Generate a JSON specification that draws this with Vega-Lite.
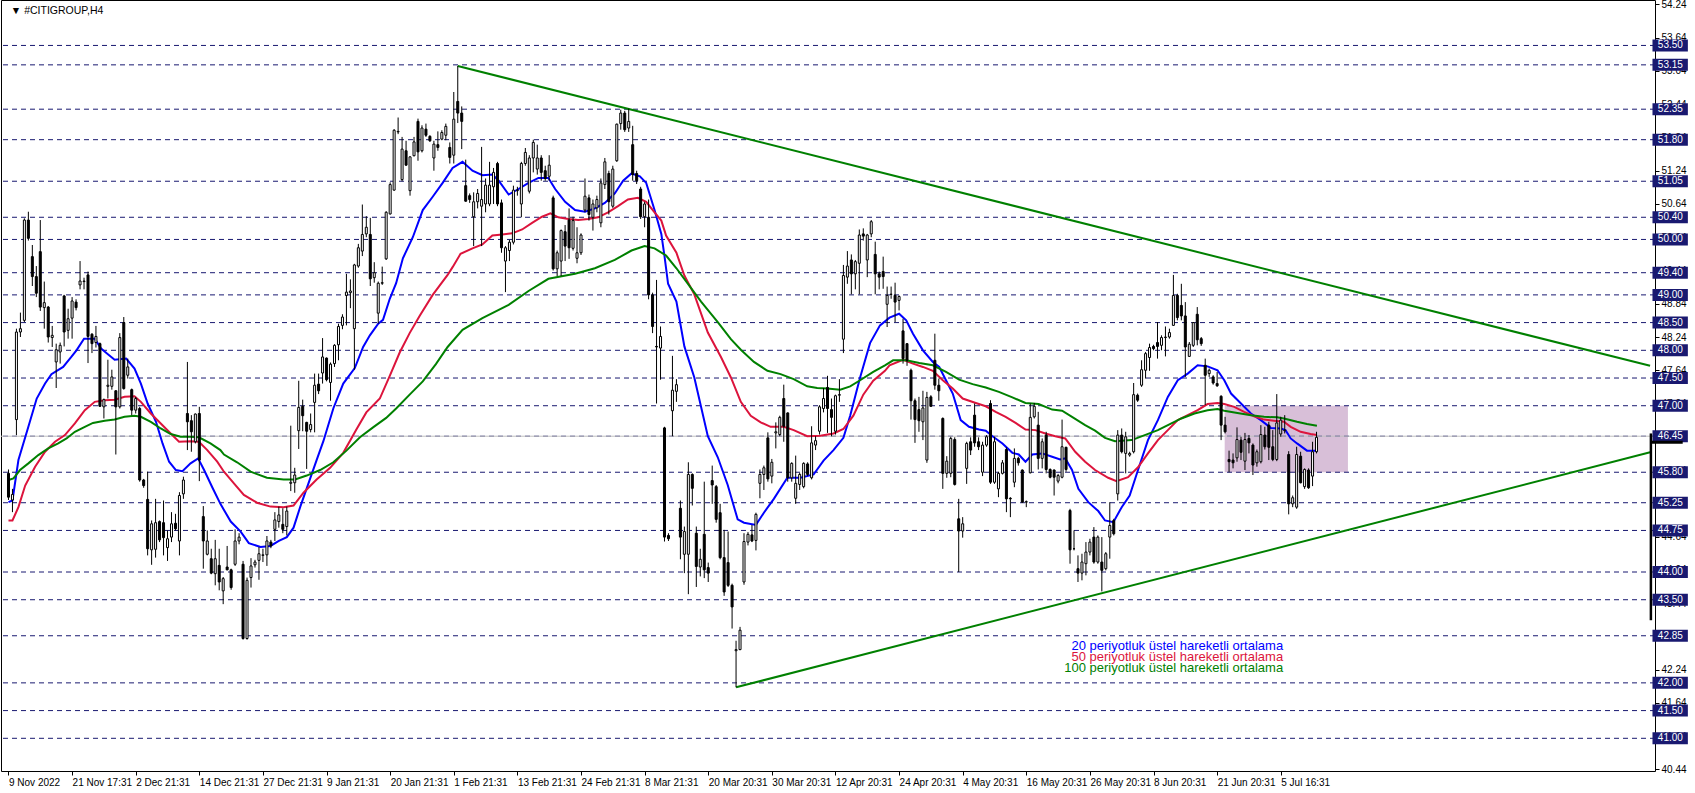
{
"$schema": "https://vega.github.io/schema/vega-lite/v6.json",
"width": 1654, "height": 771,
"autosize": {"type": "none"},
"padding": {"left": 1, "top": 0, "right": 40, "bottom": 22},
"background": "white",
"config": {"view": {"stroke": "#000000", "strokeWidth": 1}, "font": "Liberation Sans"},
"datasets": {
"levels": [{"p":53.50},{"p":53.15},{"p":52.35},{"p":51.80},{"p":51.05},{"p":50.40},{"p":50.00},{"p":49.40},{"p":49.00},{"p":48.50},{"p":48.00},{"p":47.50},{"p":47.00},{"p":46.45},{"p":45.80},{"p":45.25},{"p":44.75},{"p":44.00},{"p":43.50},{"p":42.85},{"p":42.00},{"p":41.50},{"p":41.00}],
"candles": [
{"i":0,"o":45.78,"h":45.85,"l":45.30,"c":45.35},{"i":1,"o":45.30,"h":45.50,"l":45.08,"c":45.40},{"i":2,"o":46.75,"h":48.39,"l":46.47,"c":48.33},{"i":3,"o":48.33,"h":48.68,"l":48.24,"c":48.39},{"i":4,"o":48.54,"h":50.38,"l":48.51,"c":50.35},{"i":5,"o":50.35,"h":50.50,"l":49.98,"c":50.02},{"i":6,"o":49.69,"h":49.90,"l":49.16,"c":49.33},{"i":7,"o":49.33,"h":49.52,"l":48.96,"c":49.03},{"i":8,"o":49.78,"h":50.35,"l":48.71,"c":48.78},{"i":9,"o":48.77,"h":49.24,"l":48.39,"c":48.86},
{"i":10,"o":48.78,"h":48.80,"l":48.14,"c":48.24},{"i":11,"o":48.23,"h":48.44,"l":48.06,"c":48.27},{"i":12,"o":47.79,"h":48.12,"l":47.32,"c":48.01},{"i":13,"o":47.97,"h":48.14,"l":47.76,"c":48.09},{"i":14,"o":48.98,"h":49.00,"l":48.07,"c":48.33},{"i":15,"o":48.36,"h":48.75,"l":48.21,"c":48.57},{"i":16,"o":48.58,"h":48.96,"l":48.21,"c":48.89},{"i":17,"o":48.87,"h":48.92,"l":48.72,"c":48.77},{"i":18,"o":49.18,"h":49.61,"l":49.10,"c":49.25},{"i":19,"o":49.24,"h":49.31,"l":49.10,"c":49.25},
{"i":20,"o":49.36,"h":49.42,"l":47.77,"c":48.25},{"i":21,"o":48.29,"h":48.31,"l":47.95,"c":48.12},{"i":22,"o":48.14,"h":48.44,"l":48.05,"c":48.25},{"i":23,"o":48.12,"h":48.14,"l":46.98,"c":46.99},{"i":24,"o":46.98,"h":47.13,"l":46.77,"c":47.11},{"i":25,"o":47.35,"h":47.83,"l":47.13,"c":47.37},{"i":26,"o":47.35,"h":47.65,"l":47.29,"c":47.52},{"i":27,"o":47.27,"h":47.28,"l":46.12,"c":46.98},{"i":28,"o":46.98,"h":48.31,"l":46.95,"c":48.23},{"i":29,"o":48.50,"h":48.60,"l":47.29,"c":47.31},
{"i":30,"o":47.55,"h":47.85,"l":47.49,"c":47.70},{"i":31,"o":47.29,"h":47.31,"l":46.83,"c":46.92},{"i":32,"o":46.92,"h":47.16,"l":46.86,"c":47.13},{"i":33,"o":46.95,"h":46.98,"l":45.63,"c":45.66},{"i":34,"o":45.66,"h":45.68,"l":45.52,"c":45.56},{"i":35,"o":45.31,"h":45.81,"l":44.30,"c":44.42},{"i":36,"o":44.40,"h":44.93,"l":44.13,"c":44.87},{"i":37,"o":44.41,"h":45.32,"l":44.26,"c":44.89},{"i":38,"o":44.91,"h":44.93,"l":44.54,"c":44.58},{"i":39,"o":44.89,"h":45.29,"l":44.30,"c":44.62},
{"i":40,"o":44.44,"h":44.75,"l":44.20,"c":44.60},{"i":41,"o":44.63,"h":45.08,"l":44.54,"c":44.87},{"i":42,"o":44.88,"h":45.05,"l":44.75,"c":44.78},{"i":43,"o":44.56,"h":45.44,"l":44.30,"c":45.38},{"i":44,"o":45.41,"h":45.72,"l":45.32,"c":45.66},{"i":45,"o":46.86,"h":47.79,"l":46.20,"c":46.71},{"i":46,"o":46.73,"h":46.83,"l":46.17,"c":46.53},{"i":47,"o":46.35,"h":46.86,"l":46.32,"c":46.85},{"i":48,"o":46.86,"h":46.98,"l":45.64,"c":46.02},{"i":49,"o":45.00,"h":45.19,"l":44.06,"c":44.56},
{"i":50,"o":44.32,"h":44.75,"l":44.30,"c":44.56},{"i":51,"o":44.24,"h":44.42,"l":43.96,"c":43.98},{"i":52,"o":43.97,"h":44.58,"l":43.76,"c":44.24},{"i":53,"o":44.12,"h":44.42,"l":43.67,"c":43.82},{"i":54,"o":43.66,"h":43.91,"l":43.42,"c":43.88},{"i":55,"o":44.09,"h":44.47,"l":44.03,"c":44.04},{"i":56,"o":44.04,"h":44.06,"l":43.68,"c":43.72},{"i":57,"o":44.14,"h":44.77,"l":44.11,"c":44.56},{"i":58,"o":44.56,"h":44.70,"l":44.50,"c":44.63},{"i":59,"o":44.14,"h":44.20,"l":42.78,"c":42.80},
{"i":60,"o":42.80,"h":43.90,"l":42.78,"c":43.85},{"i":61,"o":43.90,"h":44.25,"l":43.72,"c":44.11},{"i":62,"o":44.13,"h":44.22,"l":44.08,"c":44.18},{"i":63,"o":44.21,"h":44.45,"l":43.86,"c":44.33},{"i":64,"o":44.30,"h":44.42,"l":44.18,"c":44.31},{"i":65,"o":44.31,"h":44.65,"l":44.11,"c":44.56},{"i":66,"o":44.54,"h":44.58,"l":44.43,"c":44.47},{"i":67,"o":44.77,"h":45.08,"l":44.56,"c":44.94},{"i":68,"o":44.91,"h":45.18,"l":44.80,"c":45.03},{"i":69,"o":44.86,"h":45.15,"l":44.70,"c":44.77},
{"i":70,"o":44.82,"h":45.18,"l":44.66,"c":45.10},{"i":71,"o":45.60,"h":46.64,"l":45.46,"c":45.62},{"i":72,"o":45.61,"h":45.88,"l":45.43,"c":45.75},{"i":73,"o":46.55,"h":47.45,"l":46.22,"c":46.97},{"i":74,"o":46.99,"h":47.11,"l":46.54,"c":46.82},{"i":75,"o":46.70,"h":46.71,"l":45.86,"c":46.54},{"i":76,"o":46.57,"h":46.86,"l":46.52,"c":46.66},{"i":77,"o":47.06,"h":47.58,"l":46.52,"c":47.37},{"i":78,"o":47.39,"h":47.58,"l":47.21,"c":47.27},{"i":79,"o":47.59,"h":48.22,"l":47.40,"c":47.88},
{"i":80,"o":47.86,"h":47.87,"l":47.44,"c":47.47},{"i":81,"o":47.42,"h":47.78,"l":47.09,"c":47.75},{"i":82,"o":47.76,"h":48.11,"l":47.70,"c":48.09},{"i":83,"o":48.10,"h":48.48,"l":47.82,"c":48.43},{"i":84,"o":48.45,"h":48.65,"l":48.38,"c":48.60},{"i":85,"o":48.99,"h":49.38,"l":48.45,"c":49.05},{"i":86,"o":49.04,"h":49.28,"l":48.76,"c":49.07},{"i":87,"o":48.39,"h":49.56,"l":47.65,"c":49.54},{"i":88,"o":49.52,"h":49.92,"l":49.49,"c":49.85},{"i":89,"o":49.79,"h":50.63,"l":49.70,"c":50.09},
{"i":90,"o":50.10,"h":50.42,"l":50.04,"c":50.22},{"i":91,"o":50.09,"h":50.39,"l":49.16,"c":49.29},{"i":92,"o":49.31,"h":49.59,"l":49.22,"c":49.40},{"i":93,"o":48.67,"h":49.24,"l":48.48,"c":49.21},{"i":94,"o":49.21,"h":49.51,"l":49.18,"c":49.22},{"i":95,"o":49.65,"h":50.51,"l":49.63,"c":50.49},{"i":96,"o":50.46,"h":51.03,"l":50.45,"c":50.99},{"i":97,"o":50.89,"h":51.99,"l":50.88,"c":51.97},{"i":98,"o":51.94,"h":52.20,"l":51.90,"c":51.95},{"i":99,"o":51.08,"h":51.85,"l":51.05,"c":51.63},
{"i":100,"o":51.60,"h":51.78,"l":51.33,"c":51.34},{"i":101,"o":50.88,"h":51.50,"l":50.79,"c":51.49},{"i":102,"o":51.51,"h":51.85,"l":51.50,"c":51.76},{"i":103,"o":52.13,"h":52.18,"l":51.42,"c":51.58},{"i":104,"o":51.60,"h":52.06,"l":51.57,"c":52.01},{"i":105,"o":51.99,"h":52.09,"l":51.85,"c":51.88},{"i":106,"o":51.86,"h":51.88,"l":51.76,"c":51.78},{"i":107,"o":51.47,"h":51.78,"l":51.24,"c":51.72},{"i":108,"o":51.71,"h":51.95,"l":51.60,"c":51.66},{"i":109,"o":51.81,"h":51.97,"l":51.79,"c":51.93},
{"i":110,"o":51.88,"h":52.09,"l":51.79,"c":52.04},{"i":111,"o":51.66,"h":51.75,"l":51.37,"c":51.48},{"i":112,"o":51.52,"h":52.66,"l":51.37,"c":52.17},{"i":113,"o":52.49,"h":53.13,"l":52.10,"c":52.28},{"i":114,"o":52.28,"h":52.40,"l":51.63,"c":52.13},{"i":115,"o":50.97,"h":51.44,"l":50.68,"c":50.69},{"i":116,"o":50.79,"h":50.83,"l":50.66,"c":50.72},{"i":117,"o":50.41,"h":50.85,"l":49.88,"c":50.68},{"i":118,"o":50.68,"h":50.91,"l":50.56,"c":50.83},{"i":119,"o":50.60,"h":51.67,"l":49.88,"c":50.72},
{"i":120,"o":50.64,"h":51.10,"l":50.49,"c":50.98},{"i":121,"o":50.64,"h":51.40,"l":50.60,"c":50.98},{"i":122,"o":50.95,"h":51.29,"l":50.64,"c":51.21},{"i":123,"o":51.37,"h":51.40,"l":50.60,"c":50.64},{"i":124,"o":50.66,"h":50.72,"l":49.76,"c":49.85},{"i":125,"o":49.61,"h":49.88,"l":49.05,"c":49.85},{"i":126,"o":49.80,"h":49.99,"l":49.61,"c":49.95},{"i":127,"o":49.95,"h":50.97,"l":49.91,"c":50.89},{"i":128,"o":50.88,"h":50.95,"l":50.79,"c":50.89},{"i":129,"o":50.64,"h":51.40,"l":50.40,"c":51.37},
{"i":130,"o":51.37,"h":51.65,"l":51.33,"c":51.57},{"i":131,"o":50.87,"h":51.52,"l":50.83,"c":51.47},{"i":132,"o":51.47,"h":51.80,"l":51.21,"c":51.75},{"i":133,"o":51.27,"h":51.71,"l":51.17,"c":51.47},{"i":134,"o":51.47,"h":51.52,"l":51.06,"c":51.21},{"i":135,"o":51.24,"h":51.33,"l":51.06,"c":51.10},{"i":136,"o":51.14,"h":51.52,"l":51.06,"c":51.34},{"i":137,"o":50.75,"h":50.79,"l":49.44,"c":49.47},{"i":138,"o":49.47,"h":49.80,"l":49.34,"c":49.76},{"i":139,"o":49.61,"h":50.18,"l":49.34,"c":50.16},
{"i":140,"o":50.14,"h":50.26,"l":49.61,"c":49.88},{"i":141,"o":50.35,"h":50.56,"l":49.65,"c":49.85},{"i":142,"o":49.84,"h":50.41,"l":49.80,"c":50.34},{"i":143,"o":49.66,"h":50.22,"l":49.57,"c":49.76},{"i":144,"o":49.76,"h":50.11,"l":49.72,"c":50.08},{"i":145,"o":50.53,"h":51.10,"l":50.49,"c":50.78},{"i":146,"o":50.75,"h":50.81,"l":50.34,"c":50.45},{"i":147,"o":50.40,"h":50.72,"l":50.16,"c":50.64},{"i":148,"o":50.57,"h":50.79,"l":50.49,"c":50.72},{"i":149,"o":50.30,"h":51.10,"l":50.22,"c":51.02},
{"i":150,"o":50.99,"h":51.47,"l":50.91,"c":51.40},{"i":151,"o":51.19,"h":51.24,"l":50.45,"c":50.68},{"i":152,"o":50.60,"h":51.33,"l":50.57,"c":51.27},{"i":153,"o":51.42,"h":52.09,"l":51.40,"c":52.08},{"i":154,"o":52.09,"h":52.34,"l":51.98,"c":52.28},{"i":155,"o":52.28,"h":52.32,"l":51.94,"c":51.98},{"i":156,"o":52.01,"h":52.36,"l":51.94,"c":52.13},{"i":157,"o":51.71,"h":52.05,"l":51.06,"c":51.17},{"i":158,"o":51.19,"h":51.24,"l":51.00,"c":51.06},{"i":159,"o":50.91,"h":50.95,"l":50.37,"c":50.41},
{"i":160,"o":50.41,"h":50.68,"l":50.22,"c":50.64},{"i":161,"o":50.40,"h":50.72,"l":48.92,"c":49.00},{"i":162,"o":49.00,"h":49.04,"l":48.31,"c":48.43},{"i":163,"o":48.07,"h":49.27,"l":47.04,"c":48.06},{"i":164,"o":48.04,"h":48.43,"l":47.47,"c":48.25},{"i":165,"o":46.60,"h":46.62,"l":44.55,"c":44.63},{"i":166,"o":44.66,"h":44.70,"l":44.56,"c":44.60},{"i":167,"o":46.91,"h":47.90,"l":46.45,"c":47.28},{"i":168,"o":47.26,"h":47.48,"l":47.07,"c":47.38},{"i":169,"o":45.15,"h":45.29,"l":44.23,"c":44.63},
{"i":170,"o":44.32,"h":44.82,"l":43.98,"c":44.73},{"i":171,"o":44.32,"h":45.98,"l":43.60,"c":45.76},{"i":172,"o":45.76,"h":45.78,"l":45.20,"c":45.51},{"i":173,"o":44.70,"h":44.82,"l":43.73,"c":44.10},{"i":174,"o":44.09,"h":44.42,"l":43.92,"c":44.23},{"i":175,"o":44.68,"h":45.63,"l":43.89,"c":44.04},{"i":176,"o":44.08,"h":44.17,"l":43.82,"c":43.98},{"i":177,"o":45.65,"h":45.92,"l":45.23,"c":45.57},{"i":178,"o":45.54,"h":45.57,"l":44.89,"c":44.95},{"i":179,"o":45.07,"h":45.23,"l":44.23,"c":44.26},
{"i":180,"o":44.26,"h":44.76,"l":43.57,"c":43.64},{"i":181,"o":44.17,"h":44.73,"l":43.73,"c":43.76},{"i":182,"o":43.76,"h":43.79,"l":42.98,"c":43.37},{"i":183,"o":42.58,"h":42.76,"l":41.92,"c":42.60},{"i":184,"o":42.60,"h":43.01,"l":42.59,"c":42.95},{"i":185,"o":43.82,"h":44.70,"l":43.77,"c":44.55},{"i":186,"o":44.54,"h":44.72,"l":44.48,"c":44.68},{"i":187,"o":44.67,"h":44.85,"l":44.54,"c":44.56},{"i":188,"o":44.57,"h":45.07,"l":44.39,"c":45.04},{"i":189,"o":45.60,"h":45.85,"l":45.33,"c":45.76},
{"i":190,"o":45.76,"h":45.92,"l":45.48,"c":45.88},{"i":191,"o":46.42,"h":46.52,"l":45.63,"c":45.68},{"i":192,"o":45.73,"h":46.04,"l":45.60,"c":45.98},{"i":193,"o":46.51,"h":46.70,"l":46.23,"c":46.53},{"i":194,"o":46.48,"h":46.82,"l":46.45,"c":46.79},{"i":195,"o":47.13,"h":47.38,"l":46.35,"c":46.63},{"i":196,"o":46.87,"h":46.88,"l":45.63,"c":45.70},{"i":197,"o":45.70,"h":45.98,"l":45.63,"c":45.96},{"i":198,"o":45.33,"h":46.10,"l":45.23,"c":45.60},{"i":199,"o":45.58,"h":45.79,"l":45.48,"c":45.76},
{"i":200,"o":45.54,"h":45.98,"l":45.51,"c":45.96},{"i":201,"o":45.95,"h":45.98,"l":45.73,"c":45.76},{"i":202,"o":45.70,"h":46.63,"l":45.67,"c":46.33},{"i":203,"o":46.29,"h":46.45,"l":46.20,"c":46.37},{"i":204,"o":46.54,"h":47.01,"l":46.48,"c":46.98},{"i":205,"o":46.95,"h":47.32,"l":46.88,"c":47.13},{"i":206,"o":47.33,"h":47.54,"l":46.51,"c":46.95},{"i":207,"o":46.93,"h":47.13,"l":46.45,"c":46.79},{"i":208,"o":46.54,"h":47.20,"l":46.48,"c":47.18},{"i":209,"o":47.19,"h":47.48,"l":47.07,"c":47.20},
{"i":210,"o":48.20,"h":49.54,"l":47.95,"c":49.35},{"i":211,"o":49.32,"h":49.79,"l":49.20,"c":49.52},{"i":212,"o":49.63,"h":49.73,"l":49.01,"c":49.38},{"i":213,"o":49.38,"h":49.63,"l":49.10,"c":49.60},{"i":214,"o":49.57,"h":50.18,"l":49.01,"c":50.08},{"i":215,"o":50.10,"h":50.20,"l":49.98,"c":50.06},{"i":216,"o":49.63,"h":50.10,"l":49.32,"c":50.08},{"i":217,"o":50.10,"h":50.35,"l":50.04,"c":50.32},{"i":218,"o":49.73,"h":49.96,"l":49.01,"c":49.38},{"i":219,"o":49.38,"h":49.42,"l":49.10,"c":49.32},
{"i":220,"o":49.42,"h":49.69,"l":49.11,"c":49.33},{"i":221,"o":48.83,"h":49.15,"l":48.42,"c":48.99},{"i":222,"o":49.01,"h":49.15,"l":48.93,"c":49.01},{"i":223,"o":48.99,"h":49.22,"l":48.51,"c":48.87},{"i":224,"o":48.90,"h":48.99,"l":48.72,"c":48.97},{"i":225,"o":48.35,"h":48.57,"l":47.76,"c":47.85},{"i":226,"o":48.12,"h":48.12,"l":47.72,"c":47.82},{"i":227,"o":47.64,"h":47.67,"l":46.75,"c":47.09},{"i":228,"o":47.09,"h":47.13,"l":46.33,"c":46.75},{"i":229,"o":46.93,"h":47.16,"l":46.53,"c":46.73},
{"i":230,"o":46.71,"h":47.27,"l":46.38,"c":46.96},{"i":231,"o":46.02,"h":47.25,"l":45.97,"c":47.15},{"i":232,"o":47.16,"h":47.19,"l":46.98,"c":46.99},{"i":233,"o":47.82,"h":48.30,"l":47.29,"c":47.37},{"i":234,"o":47.37,"h":47.49,"l":47.09,"c":47.27},{"i":235,"o":46.77,"h":46.79,"l":45.50,"c":45.78},{"i":236,"o":45.78,"h":46.09,"l":45.70,"c":46.00},{"i":237,"o":45.78,"h":46.44,"l":45.71,"c":46.41},{"i":238,"o":46.39,"h":46.43,"l":45.56,"c":45.58},{"i":239,"o":44.96,"h":45.32,"l":44.00,"c":44.74},
{"i":240,"o":44.74,"h":44.99,"l":44.62,"c":44.87},{"i":241,"o":45.87,"h":46.35,"l":45.59,"c":46.32},{"i":242,"o":46.35,"h":46.43,"l":46.11,"c":46.20},{"i":243,"o":46.83,"h":47.04,"l":46.26,"c":46.33},{"i":244,"o":46.35,"h":46.43,"l":46.20,"c":46.26},{"i":245,"o":45.80,"h":46.35,"l":45.73,"c":46.29},{"i":246,"o":46.29,"h":46.47,"l":46.26,"c":46.44},{"i":247,"o":47.04,"h":47.10,"l":45.59,"c":45.62},{"i":248,"o":45.62,"h":46.44,"l":45.59,"c":46.35},{"i":249,"o":45.50,"h":45.81,"l":45.35,"c":45.78},
{"i":250,"o":45.78,"h":46.02,"l":45.76,"c":45.97},{"i":251,"o":46.21,"h":46.25,"l":45.08,"c":45.32},{"i":252,"o":45.33,"h":45.35,"l":44.99,"c":45.32},{"i":253,"o":45.62,"h":46.23,"l":45.53,"c":46.05},{"i":254,"o":46.05,"h":46.08,"l":45.92,"c":45.97},{"i":255,"o":45.84,"h":45.85,"l":45.25,"c":45.26},{"i":256,"o":45.26,"h":45.29,"l":45.17,"c":45.27},{"i":257,"o":45.79,"h":47.04,"l":45.78,"c":46.79},{"i":258,"o":46.80,"h":47.05,"l":46.77,"c":46.99},{"i":259,"o":46.65,"h":46.89,"l":45.85,"c":46.05},
{"i":260,"o":46.05,"h":46.41,"l":45.87,"c":46.35},{"i":261,"o":46.47,"h":46.53,"l":45.78,"c":45.85},{"i":262,"o":45.85,"h":45.87,"l":45.69,"c":45.71},{"i":263,"o":45.84,"h":45.85,"l":45.38,"c":45.71},{"i":264,"o":45.64,"h":45.77,"l":45.60,"c":45.74},{"i":265,"o":45.71,"h":46.75,"l":45.69,"c":46.26},{"i":266,"o":46.25,"h":46.26,"l":45.81,"c":45.85},{"i":267,"o":45.11,"h":45.14,"l":44.15,"c":44.40},{"i":268,"o":44.42,"h":44.75,"l":44.39,"c":44.42},{"i":269,"o":44.06,"h":44.30,"l":43.82,"c":43.98},
{"i":270,"o":43.98,"h":44.33,"l":43.85,"c":44.18},{"i":271,"o":44.15,"h":44.54,"l":43.94,"c":44.36},{"i":272,"o":44.36,"h":44.60,"l":44.30,"c":44.54},{"i":273,"o":44.63,"h":44.81,"l":44.15,"c":44.18},{"i":274,"o":44.18,"h":44.66,"l":44.15,"c":44.63},{"i":275,"o":44.18,"h":44.63,"l":43.65,"c":44.03},{"i":276,"o":44.06,"h":44.36,"l":44.03,"c":44.33},{"i":277,"o":44.63,"h":45.26,"l":44.24,"c":44.84},{"i":278,"o":44.93,"h":44.96,"l":44.66,"c":44.69},{"i":279,"o":45.41,"h":46.56,"l":45.29,"c":46.47},
{"i":280,"o":46.47,"h":46.59,"l":46.14,"c":46.17},{"i":281,"o":46.14,"h":46.53,"l":45.78,"c":46.44},{"i":282,"o":46.11,"h":46.17,"l":46.08,"c":46.14},{"i":283,"o":46.17,"h":47.41,"l":46.14,"c":47.20},{"i":284,"o":47.19,"h":47.22,"l":47.07,"c":47.10},{"i":285,"o":47.37,"h":47.82,"l":47.34,"c":47.65},{"i":286,"o":47.64,"h":47.97,"l":47.49,"c":47.94},{"i":287,"o":47.87,"h":48.12,"l":47.63,"c":48.05},{"i":288,"o":48.07,"h":48.10,"l":48.00,"c":48.03},{"i":289,"o":48.14,"h":48.51,"l":47.85,"c":48.07},
{"i":290,"o":48.09,"h":48.27,"l":48.00,"c":48.23},{"i":291,"o":48.23,"h":48.43,"l":47.89,"c":48.24},{"i":292,"o":48.24,"h":48.39,"l":48.21,"c":48.32},{"i":293,"o":48.45,"h":49.36,"l":48.44,"c":48.99},{"i":294,"o":48.99,"h":49.02,"l":48.54,"c":48.59},{"i":295,"o":48.81,"h":49.20,"l":48.54,"c":48.62},{"i":296,"o":48.62,"h":48.87,"l":47.52,"c":48.06},{"i":297,"o":47.89,"h":48.15,"l":47.88,"c":48.11},{"i":298,"o":48.09,"h":48.51,"l":48.06,"c":48.50},{"i":299,"o":48.65,"h":48.78,"l":48.09,"c":48.19},
{"i":300,"o":48.21,"h":48.24,"l":48.08,"c":48.12},{"i":301,"o":47.73,"h":47.85,"l":47.01,"c":47.55},{"i":302,"o":47.58,"h":47.67,"l":47.52,"c":47.64},{"i":303,"o":47.52,"h":47.55,"l":47.38,"c":47.41},{"i":304,"o":47.40,"h":47.61,"l":47.34,"c":47.36},{"i":305,"o":47.17,"h":47.19,"l":46.38,"c":46.65},{"i":306,"o":46.65,"h":46.80,"l":46.50,"c":46.53},{"i":307,"o":46.03,"h":46.19,"l":45.80,"c":45.99},{"i":308,"o":46.02,"h":46.14,"l":45.87,"c":45.97},{"i":309,"o":46.06,"h":46.61,"l":45.99,"c":46.39},
{"i":310,"o":46.38,"h":46.44,"l":46.02,"c":46.16},{"i":311,"o":46.00,"h":46.51,"l":45.84,"c":46.39},{"i":312,"o":46.41,"h":46.47,"l":46.14,"c":46.33},{"i":313,"o":46.29,"h":46.32,"l":45.75,"c":45.93},{"i":314,"o":45.97,"h":46.21,"l":45.90,"c":46.17},{"i":315,"o":45.99,"h":46.65,"l":45.96,"c":46.48},{"i":316,"o":46.47,"h":46.62,"l":46.21,"c":46.26},{"i":317,"o":46.65,"h":46.71,"l":46.02,"c":46.25},{"i":318,"o":46.26,"h":46.56,"l":46.00,"c":46.03},{"i":319,"o":46.03,"h":47.21,"l":46.00,"c":46.69},
{"i":320,"o":46.49,"h":46.80,"l":46.44,"c":46.74},{"i":321,"o":46.55,"h":46.83,"l":46.50,"c":46.56},{"i":322,"o":46.12,"h":46.18,"l":45.04,"c":45.23},{"i":323,"o":45.23,"h":45.38,"l":45.17,"c":45.34},{"i":324,"o":45.17,"h":46.26,"l":45.14,"c":46.12},{"i":325,"o":46.09,"h":46.17,"l":45.60,"c":45.61},{"i":326,"o":45.54,"h":45.87,"l":45.50,"c":45.85},{"i":327,"o":45.84,"h":45.87,"l":45.50,"c":45.52},{"i":328,"o":45.73,"h":46.35,"l":45.55,"c":46.17},{"i":329,"o":46.17,"h":46.53,"l":46.14,"c":46.43}
],
"ema": [
{"s":"20","i":0,"v":45.26},{"s":"20","i":1,"v":45.29},{"s":"20","i":2.5,"v":46.02},{"s":"20","i":5,"v":46.62},{"s":"20","i":7.1,"v":47.13},{"s":"20","i":9.2,"v":47.40},{"s":"20","i":10.8,"v":47.57},{"s":"20","i":13.75,"v":47.70},{"s":"20","i":15.8,"v":47.88},{"s":"20","i":17.1,"v":48.00},{"s":"20","i":19,"v":48.21},{"s":"20","i":21.7,"v":48.21},{"s":"20","i":23.3,"v":48.03},{"s":"20","i":25,"v":47.93},{"s":"20","i":26.7,"v":47.83},{"s":"20","i":29.6,"v":47.85},{"s":"20","i":31.7,"v":47.67},{"s":"20","i":33.3,"v":47.40},{"s":"20","i":35,"v":47.04},{"s":"20","i":37.1,"v":46.71},{"s":"20","i":38.75,"v":46.32},{"s":"20","i":40.4,"v":45.99},{"s":"20","i":42.1,"v":45.84},{"s":"20","i":43.75,"v":45.82},{"s":"20","i":45.8,"v":45.96},{"s":"20","i":47.7,"v":46.05},{"s":"20","i":49.2,"v":45.84},{"s":"20","i":51.25,"v":45.53},{"s":"20","i":53.3,"v":45.23},
{"s":"20","i":55.9,"v":44.91},{"s":"20","i":58.4,"v":44.73},{"s":"20","i":60.45,"v":44.52},{"s":"20","i":63.4,"v":44.45},{"s":"20","i":65.9,"v":44.47},{"s":"20","i":68,"v":44.56},{"s":"20","i":70,"v":44.63},{"s":"20","i":71.7,"v":44.80},{"s":"20","i":73.4,"v":45.18},{"s":"20","i":75.45,"v":45.60},{"s":"20","i":77.5,"v":46.02},{"s":"20","i":79.2,"v":46.36},{"s":"20","i":81.7,"v":46.95},{"s":"20","i":84.2,"v":47.40},{"s":"20","i":87.1,"v":47.68},{"s":"20","i":89.2,"v":48.06},{"s":"20","i":90.9,"v":48.27},{"s":"20","i":93,"v":48.48},{"s":"20","i":94.2,"v":48.55},{"s":"20","i":95.9,"v":48.93},{"s":"20","i":97.5,"v":49.21},{"s":"20","i":99.2,"v":49.66},{"s":"20","i":101.7,"v":50.04},{"s":"20","i":104.2,"v":50.53},{"s":"20","i":106.7,"v":50.77},{"s":"20","i":109.2,"v":51.02},
{"s":"20","i":111.7,"v":51.29},{"s":"20","i":114.2,"v":51.40},{"s":"20","i":116.7,"v":51.24},{"s":"20","i":119.2,"v":51.16},{"s":"20","i":121.7,"v":51.17},{"s":"20","i":123.3,"v":51.06},{"s":"20","i":125.8,"v":50.81},{"s":"20","i":128.3,"v":50.91},{"s":"20","i":130.8,"v":51.02},{"s":"20","i":133.3,"v":51.11},{"s":"20","i":135.8,"v":51.11},{"s":"20","i":137.5,"v":50.91},{"s":"20","i":140,"v":50.68},{"s":"20","i":142.5,"v":50.53},{"s":"20","i":145,"v":50.50},{"s":"20","i":147.5,"v":50.56},{"s":"20","i":150,"v":50.66},{"s":"20","i":152.5,"v":50.83},{"s":"20","i":154.6,"v":51.06},{"s":"20","i":156.7,"v":51.19},{"s":"20","i":158.8,"v":51.14},{"s":"20","i":160.4,"v":51.02},{"s":"20","i":162.5,"v":50.53},{"s":"20","i":164.2,"v":50.10},{"s":"20","i":165,"v":49.70},
{"s":"20","i":165.9,"v":49.20},{"s":"20","i":168,"v":48.88},{"s":"20","i":170,"v":48.07},{"s":"20","i":172.5,"v":47.51},{"s":"20","i":175.9,"v":46.45},{"s":"20","i":178.4,"v":46.07},{"s":"20","i":180.9,"v":45.57},{"s":"20","i":183.4,"v":44.95},{"s":"20","i":185,"v":44.89},{"s":"20","i":188,"v":44.85},{"s":"20","i":190,"v":45.07},{"s":"20","i":192.5,"v":45.32},{"s":"20","i":195.9,"v":45.70},{"s":"20","i":199.2,"v":45.70},{"s":"20","i":202.5,"v":45.76},{"s":"20","i":205,"v":46.01},{"s":"20","i":207.5,"v":46.20},{"s":"20","i":210,"v":46.42},{"s":"20","i":211.7,"v":46.82},{"s":"20","i":214.2,"v":47.51},{"s":"20","i":216.7,"v":48.13},{"s":"20","i":219.2,"v":48.45},
{"s":"20","i":221.6,"v":48.59},{"s":"20","i":224,"v":48.66},{"s":"20","i":225.8,"v":48.54},{"s":"20","i":227.5,"v":48.30},{"s":"20","i":230,"v":48.00},{"s":"20","i":232.5,"v":47.79},{"s":"20","i":234.1,"v":47.70},{"s":"20","i":235.8,"v":47.46},{"s":"20","i":237.5,"v":47.22},{"s":"20","i":239.5,"v":46.74},{"s":"20","i":241.6,"v":46.62},{"s":"20","i":244.1,"v":46.57},{"s":"20","i":245.8,"v":46.55},{"s":"20","i":247.5,"v":46.45},{"s":"20","i":250,"v":46.32},{"s":"20","i":252.5,"v":46.15},{"s":"20","i":254.1,"v":46.12},{"s":"20","i":255.8,"v":45.99},{"s":"20","i":257.5,"v":46.12},{"s":"20","i":260,"v":46.14},{"s":"20","i":262.5,"v":46.08},{"s":"20","i":264.5,"v":46.03},{"s":"20","i":265.8,"v":46.05},{"s":"20","i":267.5,"v":45.84},{"s":"20","i":269.1,"v":45.50},{"s":"20","i":271.6,"v":45.26},{"s":"20","i":274.1,"v":45.10},
{"s":"20","i":275.8,"v":44.93},{"s":"20","i":277.9,"v":44.90},{"s":"20","i":280,"v":45.17},{"s":"20","i":282,"v":45.38},{"s":"20","i":284.1,"v":45.84},{"s":"20","i":286.6,"v":46.38},{"s":"20","i":289.1,"v":46.74},{"s":"20","i":291.6,"v":47.16},{"s":"20","i":294.1,"v":47.46},{"s":"20","i":296.6,"v":47.58},{"s":"20","i":299.1,"v":47.73},{"s":"20","i":301.6,"v":47.71},{"s":"20","i":304.1,"v":47.64},{"s":"20","i":305.8,"v":47.46},{"s":"20","i":307.5,"v":47.22},{"s":"20","i":310,"v":47.04},{"s":"20","i":312.5,"v":46.86},{"s":"20","i":315,"v":46.74},{"s":"20","i":317.5,"v":46.60},{"s":"20","i":320,"v":46.59},{"s":"20","i":321.2,"v":46.56},{"s":"20","i":322.5,"v":46.41},{"s":"20","i":324.1,"v":46.32},{"s":"20","i":326.6,"v":46.19},{"s":"20","i":329.1,"v":46.19},
{"s":"50","i":0,"v":44.93},{"s":"50","i":1,"v":44.93},{"s":"50","i":2.5,"v":45.17},{"s":"50","i":4.2,"v":45.56},{"s":"50","i":6.7,"v":45.90},{"s":"50","i":9.2,"v":46.17},{"s":"50","i":11.7,"v":46.35},{"s":"50","i":14.2,"v":46.47},{"s":"50","i":16.7,"v":46.68},{"s":"50","i":19.2,"v":46.92},{"s":"50","i":21.7,"v":47.07},{"s":"50","i":24.2,"v":47.10},{"s":"50","i":26.7,"v":47.11},{"s":"50","i":29.2,"v":47.16},{"s":"50","i":31.7,"v":47.17},{"s":"50","i":33.3,"v":47.07},{"s":"50","i":35.8,"v":46.86},{"s":"50","i":38.3,"v":46.68},{"s":"50","i":40.8,"v":46.50},{"s":"50","i":42.9,"v":46.35},{"s":"50","i":45.8,"v":46.36},{"s":"50","i":47.9,"v":46.35},{"s":"50","i":50,"v":46.20},{"s":"50","i":52.5,"v":45.99},
{"s":"50","i":54.2,"v":45.81},{"s":"50","i":56.7,"v":45.60},{"s":"50","i":59.2,"v":45.39},{"s":"50","i":62.5,"v":45.25},{"s":"50","i":65.9,"v":45.18},{"s":"50","i":69.2,"v":45.17},{"s":"50","i":71.7,"v":45.20},{"s":"50","i":74.2,"v":45.43},{"s":"50","i":77.5,"v":45.67},{"s":"50","i":80.9,"v":45.88},{"s":"50","i":84.2,"v":46.15},{"s":"50","i":87.5,"v":46.57},{"s":"50","i":90,"v":46.88},{"s":"50","i":93.4,"v":47.13},{"s":"50","i":95.9,"v":47.54},{"s":"50","i":98.4,"v":47.96},{"s":"50","i":100.9,"v":48.31},{"s":"50","i":103.4,"v":48.62},{"s":"50","i":106.7,"v":49.00},{"s":"50","i":110.45,"v":49.36},
{"s":"50","i":111.7,"v":49.50},{"s":"50","i":113.7,"v":49.74},{"s":"50","i":116.7,"v":49.84},{"s":"50","i":119.2,"v":49.91},{"s":"50","i":121.7,"v":50.07},{"s":"50","i":124.2,"v":50.09},{"s":"50","i":126.7,"v":50.11},{"s":"50","i":129.2,"v":50.18},{"s":"50","i":131.7,"v":50.30},{"s":"50","i":134.2,"v":50.41},{"s":"50","i":136.3,"v":50.47},{"s":"50","i":138.3,"v":50.40},{"s":"50","i":140.8,"v":50.37},{"s":"50","i":143.3,"v":50.35},{"s":"50","i":145.8,"v":50.37},{"s":"50","i":148.3,"v":50.40},{"s":"50","i":150.8,"v":50.49},{"s":"50","i":153.3,"v":50.60},{"s":"50","i":155.8,"v":50.72},{"s":"50","i":158.3,"v":50.75},{"s":"50","i":160.4,"v":50.68},{"s":"50","i":162.5,"v":50.49},{"s":"50","i":164.2,"v":50.34},{"s":"50","i":165.4,"v":50.07},
{"s":"50","i":168,"v":49.76},{"s":"50","i":170,"v":49.35},{"s":"50","i":172.5,"v":49.01},{"s":"50","i":175.9,"v":48.32},{"s":"50","i":179.2,"v":47.88},{"s":"50","i":181.7,"v":47.51},{"s":"50","i":184.2,"v":47.07},{"s":"50","i":186.7,"v":46.82},{"s":"50","i":189.2,"v":46.70},{"s":"50","i":191.7,"v":46.62},{"s":"50","i":195,"v":46.62},{"s":"50","i":197.5,"v":46.56},{"s":"50","i":200.9,"v":46.45},{"s":"50","i":204.2,"v":46.46},{"s":"50","i":207.5,"v":46.50},{"s":"50","i":210,"v":46.58},{"s":"50","i":212.5,"v":46.82},{"s":"50","i":215,"v":47.20},{"s":"50","i":217.5,"v":47.45},{"s":"50","i":220.45,"v":47.63},
{"s":"50","i":221.6,"v":47.73},{"s":"50","i":225,"v":47.83},{"s":"50","i":227.5,"v":47.76},{"s":"50","i":230,"v":47.70},{"s":"50","i":232.5,"v":47.63},{"s":"50","i":235,"v":47.46},{"s":"50","i":237.5,"v":47.31},{"s":"50","i":240,"v":47.13},{"s":"50","i":243.3,"v":47.05},{"s":"50","i":245.8,"v":46.99},{"s":"50","i":248.3,"v":46.89},{"s":"50","i":250.8,"v":46.80},{"s":"50","i":253.3,"v":46.69},{"s":"50","i":255.8,"v":46.57},{"s":"50","i":258.3,"v":46.56},{"s":"50","i":260.8,"v":46.50},{"s":"50","i":263.3,"v":46.45},{"s":"50","i":265.8,"v":46.41},{"s":"50","i":268.3,"v":46.17},{"s":"50","i":270.8,"v":45.99},{"s":"50","i":273.3,"v":45.84},
{"s":"50","i":276.6,"v":45.70},{"s":"50","i":278.7,"v":45.64},{"s":"50","i":281.6,"v":45.71},{"s":"50","i":284.1,"v":45.89},{"s":"50","i":286.6,"v":46.14},{"s":"50","i":289.1,"v":46.38},{"s":"50","i":291.6,"v":46.56},{"s":"50","i":294.1,"v":46.74},{"s":"50","i":296.6,"v":46.83},{"s":"50","i":299.1,"v":46.92},{"s":"50","i":301.6,"v":47.03},{"s":"50","i":304.1,"v":47.05},{"s":"50","i":305.8,"v":47.03},{"s":"50","i":308.3,"v":46.98},{"s":"50","i":310.8,"v":46.89},{"s":"50","i":313.3,"v":46.81},{"s":"50","i":315.8,"v":46.75},{"s":"50","i":318.3,"v":46.73},{"s":"50","i":320.8,"v":46.71},{"s":"50","i":322.5,"v":46.62},{"s":"50","i":325,"v":46.53},{"s":"50","i":327.5,"v":46.49},{"s":"50","i":329.1,"v":46.47},
{"s":"100","i":0,"v":45.66},{"s":"100","i":1.25,"v":45.69},{"s":"100","i":2.9,"v":45.84},{"s":"100","i":5,"v":45.96},{"s":"100","i":7.5,"v":46.11},{"s":"100","i":10,"v":46.23},{"s":"100","i":12.5,"v":46.32},{"s":"100","i":14.6,"v":46.41},{"s":"100","i":16.7,"v":46.53},{"s":"100","i":19.2,"v":46.62},{"s":"100","i":21.25,"v":46.69},{"s":"100","i":24.2,"v":46.73},{"s":"100","i":26.7,"v":46.75},{"s":"100","i":29.2,"v":46.80},{"s":"100","i":31.7,"v":46.82},{"s":"100","i":33.3,"v":46.80},{"s":"100","i":35.8,"v":46.71},{"s":"100","i":38.3,"v":46.59},{"s":"100","i":40.8,"v":46.49},{"s":"100","i":43.3,"v":46.44},{"s":"100","i":45.8,"v":46.44},{"s":"100","i":47.9,"v":46.43},{"s":"100","i":50.8,"v":46.32},{"s":"100","i":53.3,"v":46.20},
{"s":"100","i":54.2,"v":46.12},{"s":"100","i":57.5,"v":45.98},{"s":"100","i":60.9,"v":45.81},{"s":"100","i":65,"v":45.70},{"s":"100","i":69.2,"v":45.67},{"s":"100","i":72.1,"v":45.67},{"s":"100","i":75,"v":45.74},{"s":"100","i":78.4,"v":45.84},{"s":"100","i":81.7,"v":45.98},{"s":"100","i":85,"v":46.19},{"s":"100","i":88.4,"v":46.43},{"s":"100","i":91.7,"v":46.61},{"s":"100","i":95,"v":46.78},{"s":"100","i":97.5,"v":46.95},{"s":"100","i":100.9,"v":47.20},{"s":"100","i":104.2,"v":47.44},{"s":"100","i":107.5,"v":47.75},{"s":"100","i":110.45,"v":48.06},
{"s":"100","i":114.2,"v":48.37},{"s":"100","i":119.2,"v":48.58},{"s":"100","i":125.8,"v":48.82},{"s":"100","i":130.8,"v":49.07},{"s":"100","i":135.8,"v":49.29},{"s":"100","i":142.5,"v":49.38},{"s":"100","i":147.5,"v":49.48},{"s":"100","i":152.5,"v":49.63},{"s":"100","i":156.7,"v":49.80},{"s":"100","i":160,"v":49.88},{"s":"100","i":162.5,"v":49.84},{"s":"100","i":165.4,"v":49.71},
{"s":"100","i":168,"v":49.48},{"s":"100","i":170.9,"v":49.20},{"s":"100","i":174.2,"v":48.88},{"s":"100","i":178.4,"v":48.51},{"s":"100","i":181.7,"v":48.20},{"s":"100","i":184.2,"v":48.01},{"s":"100","i":187.5,"v":47.79},{"s":"100","i":190.9,"v":47.63},{"s":"100","i":194.2,"v":47.57},{"s":"100","i":197.5,"v":47.48},{"s":"100","i":200.9,"v":47.35},{"s":"100","i":203.4,"v":47.32},{"s":"100","i":205.9,"v":47.31},{"s":"100","i":209.2,"v":47.29},{"s":"100","i":211.7,"v":47.35},{"s":"100","i":214.2,"v":47.46},{"s":"100","i":217.5,"v":47.61},{"s":"100","i":220.45,"v":47.73},
{"s":"100","i":222.5,"v":47.82},{"s":"100","i":225.8,"v":47.82},{"s":"100","i":229.1,"v":47.77},{"s":"100","i":232.5,"v":47.73},{"s":"100","i":235.8,"v":47.61},{"s":"100","i":239.1,"v":47.47},{"s":"100","i":242.5,"v":47.39},{"s":"100","i":245.8,"v":47.33},{"s":"100","i":249.1,"v":47.25},{"s":"100","i":252.5,"v":47.15},{"s":"100","i":255.8,"v":47.05},{"s":"100","i":259.1,"v":47.03},{"s":"100","i":262.5,"v":46.93},{"s":"100","i":265,"v":46.91},{"s":"100","i":267.5,"v":46.80},{"s":"100","i":270.8,"v":46.65},{"s":"100","i":273.3,"v":46.55},
{"s":"100","i":275.8,"v":46.42},{"s":"100","i":278.3,"v":46.36},{"s":"100","i":282.5,"v":46.38},{"s":"100","i":285.8,"v":46.47},{"s":"100","i":289.1,"v":46.56},{"s":"100","i":292.5,"v":46.68},{"s":"100","i":295,"v":46.77},{"s":"100","i":298.3,"v":46.86},{"s":"100","i":301.6,"v":46.92},{"s":"100","i":304.1,"v":46.94},{"s":"100","i":305.8,"v":46.91},{"s":"100","i":309.1,"v":46.87},{"s":"100","i":312.5,"v":46.83},{"s":"100","i":315.8,"v":46.80},{"s":"100","i":319.1,"v":46.79},{"s":"100","i":320.8,"v":46.77},{"s":"100","i":324.1,"v":46.71},{"s":"100","i":326.6,"v":46.67},{"s":"100","i":329.1,"v":46.64}
],
"trend": [{"t":"a","i":113,"p":53.13},{"t":"a","i":412.9,"p":47.72},{"t":"b","i":183,"p":41.92},{"t":"b","i":412.9,"p":46.16}],
"box": [{"i1":305.9,"i2":336.9,"p1":45.80,"p2":47.00}],
"marker": [{"p1":46.50,"p2":43.13}],
"bidmark": [{"p":46.34}]
},
"layer": [
{"data": {"name": "box"}, "mark": {"type": "rect", "color": "#D8BFD8"},
 "encoding": {
  "x": {"field": "i1", "type": "quantitative", "scale": {"domain": [-0.625, 412.875], "nice": false, "zero": false},
   "axis": {"values": [0,16,32,48,64,80,96,112,128,144,160,176,192,208,224,240,256,272,288,304,320], "tickCount": 60,
    "labelExpr": "['9 Nov 2022','21 Nov 17:31','2 Dec 21:31','14 Dec 21:31','27 Dec 21:31','9 Jan 21:31','20 Jan 21:31','1 Feb 21:31','13 Feb 21:31','24 Feb 21:31','8 Mar 21:31','20 Mar 20:31','30 Mar 20:31','12 Apr 20:31','24 Apr 20:31','4 May 20:31','16 May 20:31','26 May 20:31','8 Jun 20:31','21 Jun 20:31','5 Jul 16:31'][round(datum.value/16)]",
    "labelAlign": "left", "labelBaseline": "top", "labelPadding": 2, "labelFontSize": 10, "labelColor": "#000000", "labelFont": "Liberation Sans",
    "tickSize": 4, "tickColor": "#000000", "domain": false, "grid": false, "title": null, "labelOverlap": false, "labelBound": false, "labelFlush": false}},
  "x2": {"field": "i2"},
  "y": {"field": "p1", "type": "quantitative", "scale": {"domain": [40.41, 54.32], "nice": false, "zero": false},
   "axis": {"orient": "right", "values": [54.24,53.64,53.04,52.44,51.84,51.24,50.64,50.04,49.44,48.84,48.24,47.64,47.04,46.44,45.84,45.24,44.64,44.04,43.44,42.84,42.24,41.64,41.04,40.44], "tickCount": 60,
    "format": ".2f", "labelFontSize": 10, "labelColor": "#000000", "labelFont": "Liberation Sans", "labelPadding": 2, "tickSize": 4, "tickColor": "#000000", "domain": false, "grid": false, "title": null, "labelOverlap": false, "labelBound": false, "labelFlush": false}},
  "y2": {"field": "p2"}}},
{"data": {"name": "levels"}, "mark": {"type": "rule", "color": "#191970", "strokeDash": [5, 4], "strokeWidth": 1},
 "encoding": {"y": {"field": "p", "type": "quantitative", "scale": {"domain": [40.41, 54.32], "nice": false, "zero": false}}}},
{"data": {"values": [{"p": 46.45}]}, "mark": {"type": "rule", "color": "#C0C0C0", "strokeWidth": 1},
 "encoding": {"y": {"field": "p", "type": "quantitative", "scale": {"domain": [40.41, 54.32], "nice": false, "zero": false}}}},
{"data": {"name": "trend"}, "mark": {"type": "line", "color": "#008000", "strokeWidth": 2, "clip": true},
 "encoding": {"x": {"field": "i", "type": "quantitative", "scale": {"domain": [-0.625, 412.875], "nice": false, "zero": false}},
  "y": {"field": "p", "type": "quantitative", "scale": {"domain": [40.41, 54.32], "nice": false, "zero": false}},
  "detail": {"field": "t"}}},
{"data": {"name": "ema"}, "mark": {"type": "line", "strokeWidth": 2},
 "encoding": {"x": {"field": "i", "type": "quantitative", "scale": {"domain": [-0.625, 412.875], "nice": false, "zero": false}},
  "y": {"field": "v", "type": "quantitative", "scale": {"domain": [40.41, 54.32], "nice": false, "zero": false}},
  "color": {"field": "s", "type": "nominal", "scale": {"domain": ["20","50","100"], "range": ["#0000FF","#DC143C","#008000"]}, "legend": null},
  "order": {"field": "i", "type": "quantitative"}}},
{"data": {"name": "candles"}, "mark": {"type": "rule", "color": "#000000", "strokeWidth": 1},
 "encoding": {"x": {"field": "i", "type": "quantitative", "scale": {"domain": [-0.625, 412.875], "nice": false, "zero": false}},
  "y": {"field": "l", "type": "quantitative", "scale": {"domain": [40.41, 54.32], "nice": false, "zero": false}},
  "y2": {"field": "h"}}},
{"data": {"name": "candles"}, "mark": {"type": "bar", "size": 2, "stroke": "#000000", "strokeWidth": 1},
 "encoding": {"x": {"field": "i", "type": "quantitative", "scale": {"domain": [-0.625, 412.875], "nice": false, "zero": false}},
  "y": {"field": "o", "type": "quantitative", "scale": {"domain": [40.41, 54.32], "nice": false, "zero": false}},
  "y2": {"field": "c"},
  "fill": {"condition": {"test": "datum.c >= datum.o", "value": "#FFFFFF"}, "value": "#000000"}}},
{"data": {"values": [{"t": "20 periyotluk üstel hareketli ortalama"}]}, "mark": {"type": "text", "align": "right", "baseline": "middle", "fontSize": 13, "font": "Liberation Sans", "color": "#0000FF"},
 "encoding": {"x": {"datum": 320.6, "type": "quantitative", "scale": {"domain": [-0.625, 412.875], "nice": false, "zero": false}},
  "y": {"datum": 42.66, "type": "quantitative", "scale": {"domain": [40.41, 54.32], "nice": false, "zero": false}},
  "text": {"field": "t"}}},
{"data": {"values": [{"t": "50 periyotluk üstel hareketli ortalama"}]}, "mark": {"type": "text", "align": "right", "baseline": "middle", "fontSize": 13, "font": "Liberation Sans", "color": "#DC143C"},
 "encoding": {"x": {"datum": 320.6, "type": "quantitative", "scale": {"domain": [-0.625, 412.875], "nice": false, "zero": false}},
  "y": {"datum": 42.46, "type": "quantitative", "scale": {"domain": [40.41, 54.32], "nice": false, "zero": false}},
  "text": {"field": "t"}}},
{"data": {"values": [{"t": "100 periyotluk üstel hareketli ortalama"}]}, "mark": {"type": "text", "align": "right", "baseline": "middle", "fontSize": 13, "font": "Liberation Sans", "color": "#008000"},
 "encoding": {"x": {"datum": 320.6, "type": "quantitative", "scale": {"domain": [-0.625, 412.875], "nice": false, "zero": false}},
  "y": {"datum": 42.26, "type": "quantitative", "scale": {"domain": [40.41, 54.32], "nice": false, "zero": false}},
  "text": {"field": "t"}}},
{"data": {"values": [{"t": "▼  #CITIGROUP,H4"}]}, "mark": {"type": "text", "align": "left", "baseline": "middle", "fontSize": 10.5, "font": "Liberation Sans", "color": "#000000"},
 "encoding": {"x": {"datum": 0.6, "type": "quantitative", "scale": {"domain": [-0.625, 412.875], "nice": false, "zero": false}},
  "y": {"datum": 54.13, "type": "quantitative", "scale": {"domain": [40.41, 54.32], "nice": false, "zero": false}},
  "text": {"field": "t"}}},
{"data": {"name": "levels"}, "mark": {"type": "rule", "color": "#191970", "strokeWidth": 12, "strokeCap": "butt", "clip": false},
 "encoding": {"x": {"datum": 413.5, "type": "quantitative", "scale": {"domain": [-0.625, 412.875], "nice": false, "zero": false}},
  "x2": {"datum": 422.4},
  "y": {"field": "p", "type": "quantitative", "scale": {"domain": [40.41, 54.32], "nice": false, "zero": false}}}},
{"data": {"name": "levels"}, "mark": {"type": "text", "color": "#FFFFFF", "fontSize": 10, "font": "Liberation Sans", "align": "center", "baseline": "middle", "clip": false},
 "encoding": {"x": {"datum": 418, "type": "quantitative", "scale": {"domain": [-0.625, 412.875], "nice": false, "zero": false}},
  "y": {"field": "p", "type": "quantitative", "scale": {"domain": [40.41, 54.32], "nice": false, "zero": false}},
  "text": {"field": "p", "format": ".2f"}}},
{"data": {"name": "marker"}, "mark": {"type": "rule", "color": "#000000", "strokeWidth": 2.5, "strokeCap": "butt", "clip": false},
 "encoding": {"x": {"datum": 413.1, "type": "quantitative", "scale": {"domain": [-0.625, 412.875], "nice": false, "zero": false}},
  "y": {"field": "p1", "type": "quantitative", "scale": {"domain": [40.41, 54.32], "nice": false, "zero": false}},
  "y2": {"field": "p2"}}},
{"data": {"name": "bidmark"}, "mark": {"type": "rule", "color": "#000000", "strokeWidth": 3, "strokeCap": "butt", "clip": false},
 "encoding": {"x": {"datum": 412.9, "type": "quantitative", "scale": {"domain": [-0.625, 412.875], "nice": false, "zero": false}},
  "x2": {"datum": 421.1},
  "y": {"field": "p", "type": "quantitative", "scale": {"domain": [40.41, 54.32], "nice": false, "zero": false}}}}
]
}
